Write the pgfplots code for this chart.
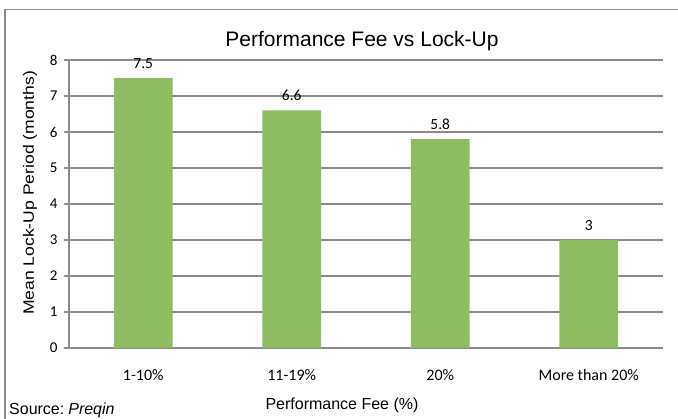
\documentclass[border=0pt]{standalone}
\usepackage{pgfplots}
\pgfplotsset{compat=1.18}
\usepackage{fontspec}
\setmainfont{Liberation Sans}
\newfontfamily\calfont{Carlito}
\definecolor{barg}{HTML}{8FBC63}
\definecolor{gridg}{HTML}{8C8C8C}
\begin{document}
\begin{tikzpicture}[x=1pt,y=1pt]
\useasboundingbox (0,0) rectangle (678,419);
\draw[gridg, line width=1.5pt] (5,0) -- (5,409.5) -- (678,409.5);
\begin{axis}[
  at={(69pt,71pt)}, anchor=south west,
  scale only axis, width=594pt, height=288pt,
  xmin=-0.5, xmax=3.5, ymin=0, ymax=8,
  ytick={0,1,...,8}, xtick={0,1,2,3},
  xticklabels={1-10\%,11-19\%,20\%,More than\ 20\%},
  ymajorgrids, grid style={gridg, line width=1.5pt},
  axis lines*=left, axis line style={gridg, line width=1.5pt},
  xtick style={draw=none},
  ytick style={gridg, line width=1.5pt},
  tick align=outside, major tick length=5pt,
  /pgf/number format/assume math mode=true,
  yticklabel style={font=\calfont\fontsize{15}{18}\selectfont, text=black, xshift=-3pt},
  xticklabel style={font=\calfont\fontsize{16}{19}\selectfont, text=black, yshift=-13pt},
  ybar, bar width=58.5pt,
  nodes near coords,
  every node near coord/.append style={font=\calfont\fontsize{15.5}{18}\selectfont, text=black, yshift=6pt},
]
\addplot[fill=barg, draw=none] coordinates {(0,7.5) (1,6.6) (2,5.8) (3,3)};
\end{axis}
\node[font=\fontsize{21}{25}\selectfont] at (362,378) {Performance Fee vs Lock-Up};
\node[font=\fontsize{15}{18}\selectfont, rotate=90] at (30,226) {\scalebox{1.17}[1]{Mean Lock-Up Period (months)}};
\node[font=\fontsize{16}{19}\selectfont] at (342,14) {Performance Fee (\%)};
\node[font=\fontsize{16}{19}\selectfont, anchor=west, inner sep=0pt] at (9,9) {Source:\hspace{0.25em}\textit{Preqin}};
\end{tikzpicture}
\end{document}
